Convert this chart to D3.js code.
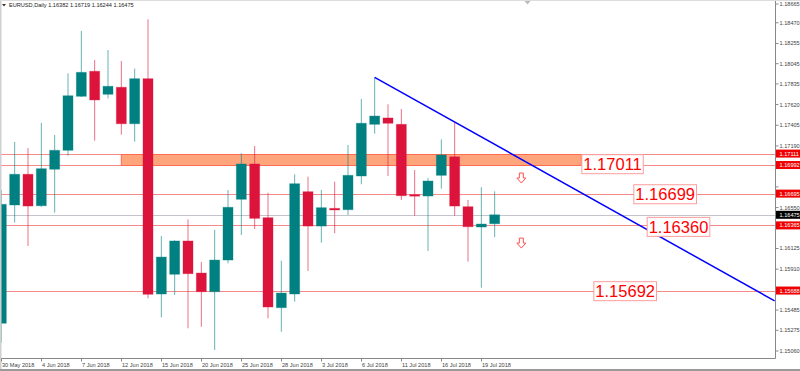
<!DOCTYPE html>
<html>
<head>
<meta charset="utf-8">
<script src="https://cdnjs.cloudflare.com/ajax/libs/d3/7.8.5/d3.min.js"></script>
<style>
  body { margin: 0; background: #fff; }
  svg { display: block; font-family: "Liberation Sans", Arial, sans-serif; }
</style>
</head>
<body>
<div id="chart"></div>
<script>
// daily bars, EURUSD
var dates = ["30 May 2018", "31 May 2018", "1 Jun 2018", "4 Jun 2018", "5 Jun 2018", "6 Jun 2018",
  "7 Jun 2018", "8 Jun 2018", "11 Jun 2018", "12 Jun 2018", "13 Jun 2018", "14 Jun 2018",
  "15 Jun 2018", "18 Jun 2018", "19 Jun 2018", "20 Jun 2018", "21 Jun 2018", "22 Jun 2018",
  "25 Jun 2018", "26 Jun 2018", "27 Jun 2018", "28 Jun 2018", "29 Jun 2018", "2 Jul 2018",
  "3 Jul 2018", "4 Jul 2018", "5 Jul 2018", "6 Jul 2018", "9 Jul 2018", "10 Jul 2018",
  "11 Jul 2018", "12 Jul 2018", "13 Jul 2018", "16 Jul 2018", "17 Jul 2018", "18 Jul 2018",
  "19 Jul 2018", "20 Jul 2018"];
var open = [1.15348, 1.16577, 1.16896, 1.16569, 1.16948, 1.17145, 1.17706, 1.17966, 1.17727, 1.17800,
  1.17421, 1.17889, 1.15652, 1.15857, 1.16203, 1.15870, 1.15676, 1.16005, 1.16636, 1.17003,
  1.16445, 1.15510, 1.15652, 1.16715, 1.16358, 1.16542, 1.16528, 1.16878, 1.17415, 1.17481,
  1.17415, 1.16684, 1.16670, 1.16885, 1.17078, 1.16559, 1.16348, 1.16382];
var high = [1.16732, 1.17231, 1.17169, 1.17429, 1.17304, 1.17945, 1.18385, 1.18083, 1.18187, 1.18073,
  1.17993, 1.18506, 1.16255, 1.16210, 1.16428, 1.15984, 1.16317, 1.16732, 1.17114, 1.17190,
  1.16704, 1.15998, 1.16896, 1.16871, 1.16732, 1.16819, 1.17200, 1.17678, 1.17903, 1.17623,
  1.17574, 1.16940, 1.16857, 1.17259, 1.17439, 1.16629, 1.16761, 1.16719];
var low = [1.15146, 1.16393, 1.16151, 1.16559, 1.16497, 1.17089, 1.17699, 1.17245, 1.17685, 1.17307,
  1.17234, 1.15607, 1.15410, 1.15642, 1.15296, 1.15312, 1.15070, 1.15971, 1.16265, 1.16327,
  1.15399, 1.15260, 1.15572, 1.15891, 1.16185, 1.16283, 1.16473, 1.16792, 1.17317, 1.16878,
  1.16629, 1.16465, 1.16099, 1.16746, 1.16465, 1.15988, 1.15717, 1.16244];
var close = [1.16584, 1.16896, 1.16566, 1.16954, 1.17145, 1.17712, 1.17955, 1.17668, 1.17810, 1.17421,
  1.17889, 1.15649, 1.16036, 1.16203, 1.15863, 1.15676, 1.16005, 1.16553, 1.17003, 1.16438,
  1.15517, 1.15662, 1.16798, 1.16358, 1.16549, 1.16525, 1.16885, 1.17426, 1.17501, 1.17426,
  1.16673, 1.16670, 1.16826, 1.17096, 1.16566, 1.16351, 1.16379, 1.16475];

var priceTicks = ["1.18665", "1.18470", "1.18255", "1.18045", "1.17835", "1.17620", "1.17405",
  "1.17190", "1.16975", "1.16765", "1.16550", "1.16335", "1.16125", "1.15910", "1.15695",
  "1.15485", "1.15275", "1.15060"];

// horizontal levels drawn on the chart
var levels = [1.17111, 1.16992, 1.16695, 1.16365, 1.15688];
var zoneTop = 1.17111, zoneBottom = 1.16992;
var levelTexts = ["1.17011", "1.16699", "1.16360", "1.15692"];
var lastPrice = 1.16475;
// trend line: from the 9 Jul high down to the right edge
var trendIdx = [28, 58];
var trendPrice = [1.17903, 1.15581];
var arrowPrices = [1.16909, 1.16233];

var W = 800, H = 371;
var plotRight = 775, plotBottom = 358;

var svg = d3.select("#chart").append("svg").attr("width", W).attr("height", H);

var x = d3.scaleLinear().domain([0, 58]).range([1.33, 774.67]);
var y = d3.scaleLinear().domain([1.15060, 1.18665]).range([351, 4]);

svg.append("defs").append("clipPath").attr("id", "plot")
  .append("rect").attr("x", 0).attr("y", 0).attr("width", plotRight).attr("height", plotBottom);

var g = svg.append("g").attr("clip-path", "url(#plot)");

// current price line
g.append("line")
  .attr("x1", 0).attr("x2", plotRight)
  .attr("y1", Math.round(y(lastPrice)) + 0.5).attr("y2", Math.round(y(lastPrice)) + 0.5)
  .attr("stroke", "#c4c4cc").attr("stroke-width", 1);

// level lines
g.selectAll(".level").data(levels).enter().append("line")
  .attr("class", "level")
  .attr("x1", 0).attr("x2", plotRight)
  .attr("y1", function (d) { return Math.round(y(d)) + 0.5; })
  .attr("y2", function (d) { return Math.round(y(d)) + 0.5; })
  .attr("stroke", "#f58a8a").attr("stroke-width", 1);

// supply zone
g.append("rect")
  .attr("x", x(9))
  .attr("y", Math.round(y(zoneTop)) + 0.5)
  .attr("width", x(43.5) - x(9))
  .attr("height", Math.round(y(zoneBottom)) - Math.round(y(zoneTop)))
  .attr("fill", "#ffa57c")
  .attr("stroke", "#ff6a50").attr("stroke-width", 1);

// candles
var bars = d3.range(dates.length);
var up = function (i) { return close[i] >= open[i]; };
var col = function (i) { return up(i) ? "#008080" : "#dc143c"; };

g.selectAll(".wick").data(bars).enter().append("line")
  .attr("class", "wick")
  .attr("x1", function (i) { return x(i); })
  .attr("x2", function (i) { return x(i); })
  .attr("y1", function (i) { return y(high[i]); })
  .attr("y2", function (i) { return y(low[i]); })
  .attr("stroke", col).attr("stroke-opacity", 0.6).attr("stroke-width", 1);

g.selectAll(".body").data(bars).enter().append("rect")
  .attr("class", "body")
  .attr("x", function (i) { return x(i) - 5; })
  .attr("width", 10)
  .attr("y", function (i) { return y(Math.max(open[i], close[i])); })
  .attr("height", function (i) {
    return Math.max(1.5, Math.abs(y(open[i]) - y(close[i])));
  })
  .attr("fill", col)
  .attr("stroke", col).attr("stroke-opacity", 0.35).attr("stroke-width", 1);

// trend line
g.append("line")
  .attr("x1", x(trendIdx[0])).attr("y1", y(trendPrice[0]))
  .attr("x2", x(trendIdx[1])).attr("y2", y(trendPrice[1]))
  .attr("stroke", "#0000ff").attr("stroke-width", 1.5);

// down arrows
g.selectAll(".arrow").data(arrowPrices).enter().append("path")
  .attr("class", "arrow")
  .attr("transform", function (d) { return "translate(" + x(39) + "," + y(d) + ")"; })
  .attr("d", "M-2,0 L2,0 L2,5 L4.5,5 L0,10 L-4.5,5 L-2,5 Z")
  .attr("fill", "#fff").attr("stroke", "#ff5050").attr("stroke-width", 1);

// value labels
var labelPos = [43.5, 47.4, 48.4, 44.4];
levelTexts.forEach(function (t, k) {
  var lg = svg.append("g")
    .attr("transform", "translate(" + x(labelPos[k]) + "," + (y(+t) + 1) + ")");
  var rect = lg.append("rect").attr("fill", "#fff")
    .attr("stroke", "#ff9c9c").attr("stroke-width", 1);
  var txt = lg.append("text")
    .attr("x", 2).attr("y", 6)
    .attr("font-size", 16.5)
    .attr("fill", "#ff0000")
    .text(t);
  var bb = txt.node().getBBox();
  rect.attr("x", 0.5).attr("y", -9.5).attr("width", bb.width + 3).attr("height", 19);
});

// axes frame
svg.append("line").attr("x1", plotRight + 0.5).attr("x2", plotRight + 0.5)
  .attr("y1", 0).attr("y2", plotBottom + 0.5).attr("stroke", "#888").attr("stroke-width", 1);
svg.append("line").attr("x1", 0).attr("x2", plotRight + 0.5)
  .attr("y1", plotBottom + 0.5).attr("y2", plotBottom + 0.5).attr("stroke", "#888").attr("stroke-width", 1);
svg.append("rect").attr("x", 0).attr("y", 0).attr("width", 1.5).attr("height", H).attr("fill", "#d0d0d0");
svg.append("rect").attr("x", 0).attr("y", H - 2).attr("width", W).attr("height", 2).attr("fill", "#9a9a9a");
svg.append("line").attr("x1", 0).attr("x2", W).attr("y1", 0.5).attr("y2", 0.5).attr("stroke", "#ddd");

// price axis
var tagged = levels.concat([lastPrice]);
var yAxis = svg.append("g").attr("transform", "translate(" + (plotRight + 0.5) + ",0)");
yAxis.selectAll(".ptick").data(priceTicks).enter().append("line")
  .attr("x1", 0).attr("x2", 3)
  .attr("y1", function (d) { return y(+d); }).attr("y2", function (d) { return y(+d); })
  .attr("stroke", "#888");
// labels hidden under a level tag are not drawn, as on the terminal
yAxis.selectAll(".plabel")
  .data(priceTicks.filter(function (d) {
    return !tagged.some(function (v) { return Math.abs(y(v) - y(+d)) < 7; });
  }))
  .enter().append("text")
  .attr("x", 4).attr("y", function (d) { return y(+d) + 2; })
  .attr("font-size", 5.6).attr("fill", "#444")
  .text(function (d) { return d; });

// level tags on the price axis
function tag(value, color) {
  var t = yAxis.append("g").attr("transform", "translate(0," + y(value) + ")");
  t.append("rect").attr("x", 0.5).attr("y", -4).attr("width", 25).attr("height", 8).attr("fill", color);
  t.append("text").attr("x", 4).attr("y", 2).attr("font-size", 5.6).attr("fill", "#fff")
    .text(value.toFixed(5));
}
levels.forEach(function (v) { tag(v, "#f00000"); });
tag(lastPrice, "#000");

// time axis
var dateTicks = bars.filter(function (i) { return i % 3 === 0; });
var xAxis = svg.append("g").attr("transform", "translate(0," + (plotBottom + 0.5) + ")");
xAxis.selectAll(".dtick").data(dateTicks).enter().append("line")
  .attr("x1", function (i) { return Math.round(x(i)) + 0.5; })
  .attr("x2", function (i) { return Math.round(x(i)) + 0.5; })
  .attr("y1", 0).attr("y2", 3).attr("stroke", "#888");
xAxis.selectAll(".dlabel").data(dateTicks).enter().append("text")
  .attr("x", function (i) { return Math.round(x(i)) + 1; })
  .attr("y", 8)
  .attr("font-size", 5.6).attr("fill", "#444")
  .text(function (i) { return dates[i]; });

// title
svg.append("path").attr("d", "M2,4 L6,4 L4,6.5 Z").attr("fill", "#333");
svg.append("text").attr("x", 9).attr("y", 7).attr("font-size", 5.6).attr("fill", "#222")
  .text("EURUSD,Daily " + [open[37], high[37], low[37], close[37]].map(function (v) {
    return v.toFixed(5);
  }).join(" "));
// chart shift marker
svg.append("path").attr("d", "M524.5,1 L530.5,1 L527.5,4.5 Z").attr("fill", "#bbb");
</script>
</body>
</html>
